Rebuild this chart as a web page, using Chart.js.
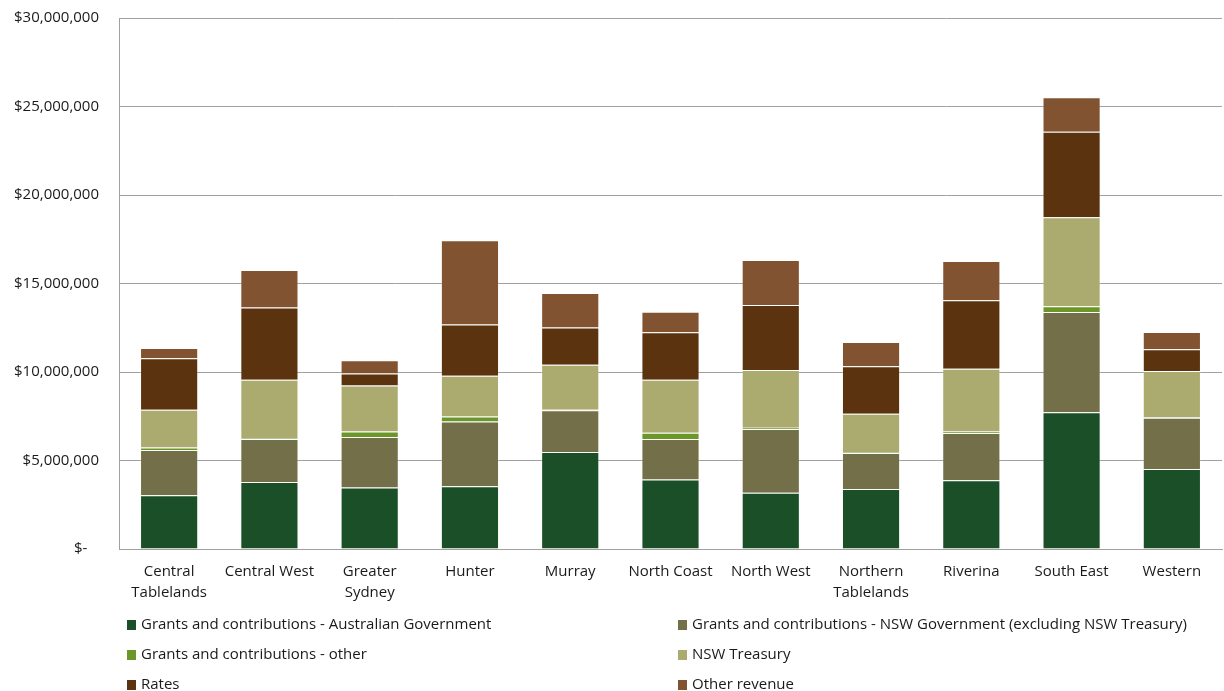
<!DOCTYPE html>
<html>
<head>
<meta charset="utf-8">
<title>Revenue by region</title>
<script src="https://cdn.jsdelivr.net/npm/chart.js@4"></script>
<style>
    html, body { margin: 0; padding: 0; background: #fff; }
    #wrap { width: 1224px; height: 691px; }
</style>
</head>
<body>
<div id="wrap"><canvas id="revenueChart" width="1224" height="691"></canvas></div>
<script>
// Regions (x axis)
const regions = [
    ['Central', 'Tablelands'], 'Central West', ['Greater', 'Sydney'], 'Hunter', 'Murray',
    'North Coast', 'North West', ['Northern', 'Tablelands'], 'Riverina', 'South East', 'Western'
];

// Revenue per source, $
const ausGov   = [3030000, 3790000, 3480000, 3540000, 5480000, 3930000, 3180000, 3390000, 3890000, 7720000, 4520000];
const nswGov   = [2560000, 2430000, 2850000, 3670000, 2360000, 2280000, 3600000, 2040000, 2660000, 5670000, 2900000];
const otherGrants = [150000, 50000, 310000, 280000, 30000, 360000, 70000, 50000, 90000, 320000, 20000];
const treasury = [2130000, 3290000, 2600000, 2300000, 2540000, 2990000, 3260000, 2160000, 3550000, 5030000, 2620000];
const rates    = [2900000, 4090000, 680000, 2900000, 2110000, 2680000, 3680000, 2680000, 3860000, 4840000, 1220000];
const otherRevenue = [590000, 2110000, 740000, 4750000, 1940000, 1170000, 2540000, 1370000, 2220000, 1940000, 980000];

// Y axis ticks
const yMax = 30000000;
const yStep = 5000000;

const seriesNames = [
    'Grants and contributions - Australian Government',
    'Grants and contributions - NSW Government (excluding NSW Treasury)',
    'Grants and contributions - other',
    'NSW Treasury',
    'Rates',
    'Other revenue'
];
const seriesColors = ['#1a4f27', '#736f48', '#6b9628', '#abab70', '#5b330f', '#825331'];
const seriesData = [ausGov, nswGov, otherGrants, treasury, rates, otherRevenue];

const FONT = '"Open Sans", "Noto Sans", sans-serif';
const TEXT = '#1a1a1a';

// Two-column legend under the plot
const columnLegend = {
    id: 'columnLegend',
    afterDraw(chart) {
        const ctx = chart.ctx;
        const colX = [127, 678];
        ctx.save();
        ctx.font = '15px ' + FONT;
        ctx.textBaseline = 'middle';
        ctx.textAlign = 'left';
        chart.data.datasets.forEach((ds, i) => {
            const x = colX[i % 2];
            const y = 625 + Math.floor(i / 2) * 30;
            ctx.fillStyle = ds.backgroundColor;
            ctx.fillRect(x, y - 5, 9, 10);
            ctx.fillStyle = TEXT;
            ctx.fillText(ds.label, x + 14, y);
        });
        ctx.restore();
    }
};

new Chart(document.getElementById('revenueChart'), {
    type: 'bar',
    data: {
        labels: regions,
        datasets: seriesData.map((data, i) => ({
            label: seriesNames[i],
            data: data,
            backgroundColor: seriesColors[i],
            borderColor: 'rgba(255,255,255,0.2)',
            borderWidth: 1,
            categoryPercentage: 0.58,
            barPercentage: 1
        }))
    },
    options: {
        responsive: false,
        animation: false,
        devicePixelRatio: 1,
        layout: {
            padding: { top: 18, right: 2, bottom: 82, left: 0 }
        },
        plugins: {
            legend: { display: false },
            tooltip: { enabled: false }
        },
        scales: {
            x: {
                stacked: true,
                grid: { display: false },
                border: { display: true, color: '#a0a0a0', width: 1 },
                ticks: {
                    color: TEXT,
                    font: { family: FONT, size: 15, lineHeight: 1.4 },
                    padding: 4,
                    maxRotation: 0,
                    autoSkip: false
                },
                afterFit(scale) { scale.height = 60; }
            },
            y: {
                stacked: true,
                min: 0,
                max: yMax,
                // invisible tick marks keep the labels away from the axis
                grid: { color: '#a0a0a0', lineWidth: 1, drawTicks: true, tickLength: 18, tickColor: 'rgba(0,0,0,0)' },
                border: { display: true, color: '#a0a0a0', width: 1 },
                ticks: {
                    stepSize: yStep,
                    color: TEXT,
                    padding: 2,
                    font: { family: FONT, size: 15 },
                    callback: v => v === 0 ? '$-   ' : '$' + v.toLocaleString('en-US')
                },
                afterFit(scale) { scale.width = 119; }
            }
        }
    },
    plugins: [columnLegend]
});
</script>
</body>
</html>
